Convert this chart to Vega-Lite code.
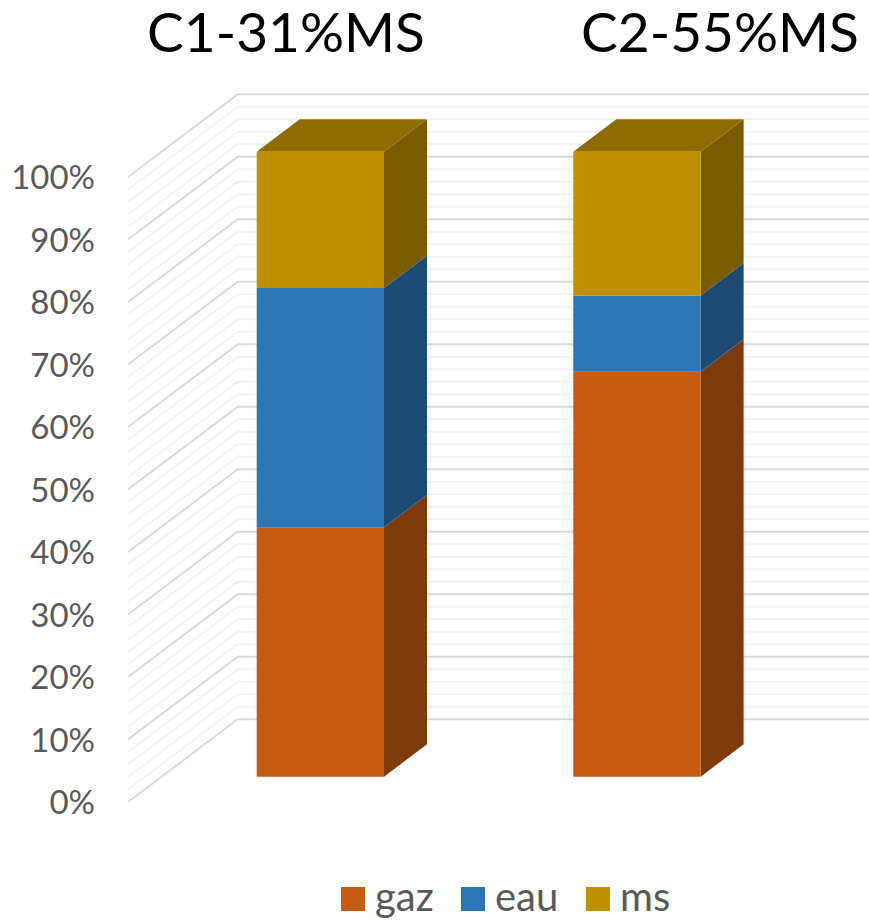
{
  "$schema": "https://vega.github.io/schema/vega-lite/v6.json",
  "width": 869,
  "height": 921,
  "padding": 0,
  "autosize": "none",
  "background": "white",
  "config": {"view": {"stroke": null}, "font": "Lato"},
  "datasets": {
    "levels": [
      {"level": 0}, {"level": 2}, {"level": 4}, {"level": 6}, {"level": 8},
      {"level": 10}, {"level": 12}, {"level": 14}, {"level": 16}, {"level": 18},
      {"level": 20}, {"level": 22}, {"level": 24}, {"level": 26}, {"level": 28},
      {"level": 30}, {"level": 32}, {"level": 34}, {"level": 36}, {"level": 38},
      {"level": 40}, {"level": 42}, {"level": 44}, {"level": 46}, {"level": 48},
      {"level": 50}, {"level": 52}, {"level": 54}, {"level": 56}, {"level": 58},
      {"level": 60}, {"level": 62}, {"level": 64}, {"level": 66}, {"level": 68},
      {"level": 70}, {"level": 72}, {"level": 74}, {"level": 76}, {"level": 78},
      {"level": 80}, {"level": 82}, {"level": 84}, {"level": 86}, {"level": 88},
      {"level": 90}, {"level": 92}, {"level": 94}, {"level": 96}, {"level": 98},
      {"level": 100}
    ],
    "bars": [
      {"category": "C1-31%MS", "series": "gaz", "value": 39.9},
      {"category": "C1-31%MS", "series": "eau", "value": 38.3},
      {"category": "C1-31%MS", "series": "ms", "value": 21.8},
      {"category": "C2-55%MS", "series": "gaz", "value": 64.8},
      {"category": "C2-55%MS", "series": "eau", "value": 12.2},
      {"category": "C2-55%MS", "series": "ms", "value": 23.0}
    ],
    "titles": [
      {"category": "C1-31%MS"},
      {"category": "C2-55%MS"}
    ]
  },
  "layer": [
    {
      "description": "Minor lines running along the side wall and the back wall",
      "data": {"name": "levels"},
      "transform": [
        {"filter": "datum.level % 10 != 0"},
        {"calculate": "[0, 1, 2]", "as": "vertex"},
        {"flatten": ["vertex"]},
        {"calculate": "[128, 237.7, 869][datum.vertex]", "as": "px"},
        {"calculate": "datum.level + (datum.vertex > 0 ? 13.232 : 0)", "as": "lift"}
      ],
      "mark": {"type": "line", "stroke": "#F2F2F2", "strokeWidth": 2, "interpolate": "linear"},
      "encoding": {
        "x": {"field": "px", "type": "quantitative", "scale": {"domain": [0, 869], "nice": false, "zero": false}, "axis": null},
        "y": {
          "field": "lift",
          "type": "quantitative",
          "scale": {"domain": [-19.04, 128.32], "nice": false, "zero": false},
          "axis": null
        },
        "detail": {"field": "level"}
      }
    },
    {
      "description": "Major lines",
      "data": {"name": "levels"},
      "transform": [
        {"filter": "datum.level % 10 == 0"},
        {"calculate": "[0, 1, 2]", "as": "vertex"},
        {"flatten": ["vertex"]},
        {"calculate": "[128, 237.7, 869][datum.vertex]", "as": "px"},
        {"calculate": "datum.level + (datum.vertex > 0 ? 13.232 : 0)", "as": "lift"}
      ],
      "mark": {"type": "line", "stroke": "#D9D9D9", "strokeWidth": 2, "interpolate": "linear"},
      "encoding": {
        "x": {"field": "px", "type": "quantitative", "axis": null},
        "y": {"field": "lift", "type": "quantitative", "axis": null},
        "detail": {"field": "level"}
      }
    },
    {
      "description": "Percent labels in front of the side wall",
      "data": {"name": "levels"},
      "transform": [
        {"filter": "datum.level % 10 == 0"},
        {"calculate": "datum.level + '%'", "as": "label"}
      ],
      "mark": {"type": "text", "font": "Lato", "fontSize": 33, "color": "#595959", "align": "right", "baseline": "middle", "dy": 2},
      "encoding": {
        "x": {"datum": 95, "type": "quantitative", "axis": null},
        "y": {"field": "level", "type": "quantitative", "axis": null},
        "text": {"field": "label"}
      }
    },
    {
      "description": "Stacked columns: side faces, top face, front faces",
      "data": {"name": "bars"},
      "transform": [
        {"calculate": "indexof(['gaz', 'eau', 'ms'], datum.series)", "as": "rank"},
        {"stack": "value", "groupby": ["category"], "sort": [{"field": "rank", "order": "ascending"}], "as": ["start", "end"]},
        {"calculate": "256.7 + 316.6 * indexof(['C1-31%MS', 'C2-55%MS'], datum.category)", "as": "left"},
        {"calculate": "datum.left + 127.3", "as": "right"}
      ],
      "layer": [
        {
          "transform": [
            {"calculate": "[0, 1]", "as": "depth"},
            {"flatten": ["depth"]},
            {"calculate": "datum.right + 43 * datum.depth", "as": "px"},
            {"calculate": "datum.start + 4.05 + 5.18 * datum.depth", "as": "low"},
            {"calculate": "datum.end + 4.05 + 5.18 * datum.depth", "as": "high"}
          ],
          "mark": {"type": "area", "orient": "vertical", "interpolate": "linear"},
          "encoding": {
            "x": {"field": "px", "type": "quantitative", "axis": null},
            "y": {"field": "low", "type": "quantitative", "stack": null, "axis": null},
            "y2": {"field": "high"},
            "detail": {"field": "category"},
            "color": {
              "field": "series",
              "type": "nominal",
              "legend": null,
              "scale": {"domain": ["gaz", "eau", "ms"], "range": ["#7F3A0B", "#1D4B76", "#7A5C00"]}
            }
          }
        },
        {
          "transform": [
            {"filter": "datum.series == 'ms'"},
            {"calculate": "[0, 1, 2, 3]", "as": "corner"},
            {"flatten": ["corner"]},
            {"calculate": "datum.left + [0, 43, 127.3, 170.3][datum.corner]", "as": "px"},
            {"calculate": "datum.end + 4.05 + (datum.corner > 0 ? 5.18 : 0)", "as": "high"},
            {"calculate": "datum.end + 4.05 + (datum.corner == 3 ? 5.18 : 0)", "as": "low"}
          ],
          "mark": {"type": "area", "orient": "vertical", "interpolate": "linear"},
          "encoding": {
            "x": {"field": "px", "type": "quantitative", "axis": null},
            "y": {"field": "low", "type": "quantitative", "stack": null, "axis": null},
            "y2": {"field": "high"},
            "detail": {"field": "category"},
            "color": {
              "field": "series",
              "type": "nominal",
              "legend": null,
              "scale": {"domain": ["ms"], "range": ["#8F6C00"]}
            }
          }
        },
        {
          "transform": [
            {"calculate": "datum.start + 4.05", "as": "low"},
            {"calculate": "datum.end + 4.05", "as": "high"}
          ],
          "mark": {"type": "rect"},
          "encoding": {
            "x": {"field": "left", "type": "quantitative", "axis": null},
            "x2": {"field": "right"},
            "y": {"field": "low", "type": "quantitative", "stack": null, "axis": null},
            "y2": {"field": "high"},
            "color": {
              "field": "series",
              "type": "nominal",
              "scale": {"domain": ["gaz", "eau", "ms"], "range": ["#C55A11", "#2E75B6", "#BF9000"]},
              "legend": {
                "title": null,
                "orient": "none",
                "direction": "horizontal",
                "legendX": 333,
                "legendY": 879,
                "symbolType": "square",
                "symbolSize": 576,
                "symbolStrokeWidth": 0,
                "labelFont": "Lato",
                "labelFontSize": 40,
                "labelColor": "#595959",
                "labelOffset": 2,
                "columnPadding": 19
              }
            }
          }
        }
      ],
      "resolve": {"scale": {"color": "independent"}}
    },
    {
      "description": "Column headings above the plot",
      "data": {"name": "titles"},
      "transform": [
        {"calculate": "286 + 434 * indexof(['C1-31%MS', 'C2-55%MS'], datum.category)", "as": "px"}
      ],
      "mark": {"type": "text", "font": "Lato", "fontSize": 55, "color": "#000000", "align": "center", "baseline": "middle", "dy": 1},
      "encoding": {
        "x": {"field": "px", "type": "quantitative", "axis": null},
        "y": {"datum": 122.9, "type": "quantitative", "axis": null},
        "text": {"field": "category"}
      }
    }
  ],
  "resolve": {"scale": {"color": "independent"}}
}
